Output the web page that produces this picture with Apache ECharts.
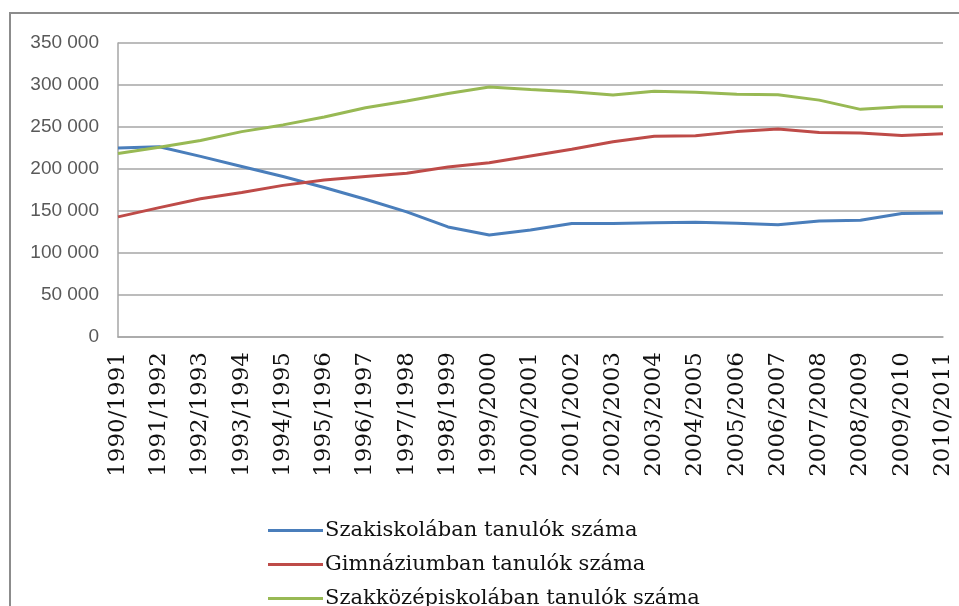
<!DOCTYPE html>
<html>
<head>
<meta charset="utf-8">
<script src="https://cdn.jsdelivr.net/npm/echarts@6/dist/echarts.min.js"></script>
<style>html,body{margin:0;padding:0;background:#fff}#c{width:959px;height:606px}</style>
</head>
<body>
<div id="c"></div>
<script>
const categories = ['1990/1991','1991/1992','1992/1993','1993/1994','1994/1995','1995/1996','1996/1997','1997/1998','1998/1999','1999/2000','2000/2001','2001/2002','2002/2003','2003/2004','2004/2005','2005/2006','2006/2007','2007/2008','2008/2009','2009/2010','2010/2011'];
const szakiskola = [225000,226500,215000,203000,191000,178000,164000,149000,131000,121500,127500,135000,135000,136000,136500,135500,133500,138000,139000,147000,147500];
const gimnazium = [143000,154000,164500,172000,180500,187000,191000,195000,202500,207500,215500,223500,232500,239000,239500,244500,247500,243500,243000,240000,242000];
const szakkozep = [218500,226000,234000,244500,252500,262000,273000,281000,290000,297500,294500,292000,288000,292500,291500,289000,288500,282000,271000,274000,274000];
const seriesNames = ['Szakiskolában tanulók száma','Gimnáziumban tanulók száma','Szakközépiskolában tanulók száma'];
const yTicks = {min: 0, max: 350000, interval: 50000};

const chart = echarts.init(document.getElementById('c'), null, {renderer: 'canvas'});
const colors = ['#4a7ebb', '#be4b48', '#98b954'];
const mk = (name, data, color) => ({
  name, type: 'line', data, symbol: 'none', smooth: false,
  lineStyle: {color, width: 3}, itemStyle: {color}
});
const legendTops = [520, 554, 588];
chart.setOption({
  animation: false,
  backgroundColor: '#fff',
  graphic: [{
    type: 'rect', shape: {x: 10, y: 13, width: 970, height: 620},
    style: {fill: 'none', stroke: '#8c8c8c', lineWidth: 2}, silent: true, z: -1
  }],
  grid: {left: 118, right: 16, top: 43, bottom: 269, containLabel: false},
  xAxis: {
    type: 'category', data: categories, boundaryGap: false,
    axisLine: {show: true, lineStyle: {color: '#a6a6a6', width: 1.5}},
    axisTick: {show: false},
    axisLabel: {rotate: 90, margin: 15, fontFamily: 'DejaVu Serif', fontSize: 23, color: '#111', interval: 0}
  },
  yAxis: {
    type: 'value', min: yTicks.min, max: yTicks.max, interval: yTicks.interval,
    axisLine: {show: true, lineStyle: {color: '#a6a6a6', width: 1.5}},
    axisTick: {show: false},
    splitLine: {show: true, lineStyle: {color: '#a6a6a6', width: 1.5}},
    axisLabel: {
      margin: 19, fontFamily: 'Liberation Sans', fontSize: 19, color: '#595959',
      formatter: v => String(v).replace(/\B(?=(\d{3})+(?!\d))/g, ' ')
    }
  },
  legend: seriesNames.map((n, i) => ({
    orient: 'vertical', left: 268, top: legendTops[i], padding: 0,
    itemWidth: 55, itemHeight: 3, icon: 'rect',
    textStyle: {fontFamily: 'DejaVu Serif', fontSize: 21, lineHeight: 21, color: '#111', padding: [0, 0, 0, -3]},
    data: [n]
  })),
  series: [
    mk(seriesNames[0], szakiskola, colors[0]),
    mk(seriesNames[1], gimnazium, colors[1]),
    mk(seriesNames[2], szakkozep, colors[2])
  ]
});
</script>
</body>
</html>
